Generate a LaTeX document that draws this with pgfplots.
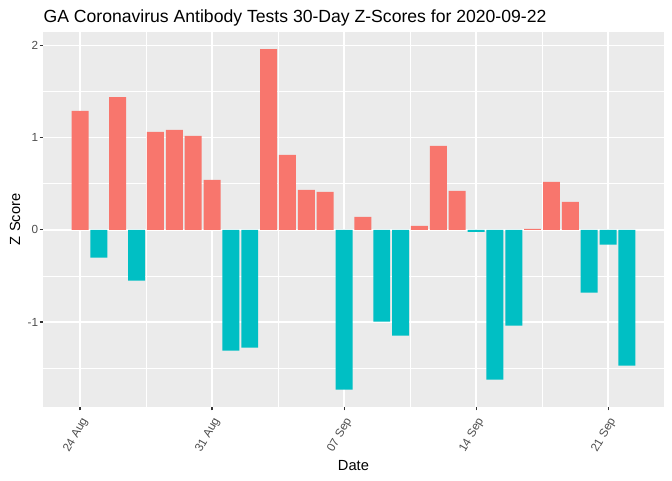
\documentclass[border=0pt]{standalone}
\usepackage{fontspec}
\setmainfont{Liberation Sans}
\usepackage{xcolor}
\usepackage{pgfplots}
\pgfplotsset{compat=1.18}

\definecolor{ggred}{HTML}{F8766D}
\definecolor{ggcyan}{HTML}{00BFC4}
\definecolor{ggpanel}{HTML}{EBEBEB}
\definecolor{gray30}{HTML}{4D4D4D}
\definecolor{gray20}{HTML}{333333}

\begin{document}
\begin{tikzpicture}
\useasboundingbox (0,0) rectangle (504pt,360pt);
\begin{axis}[
  at={(32.5pt,55pt)}, anchor=south west,
  scale only axis,
  width=465.2pt, height=281pt,
  xmin=-1.945, xmax=30.945,
  ymin=-1.918, ymax=2.145,
  axis background/.style={fill=ggpanel},
  axis line style={draw=none},
  grid=both,
  major grid style={white, line width=1.07pt},
  minor grid style={white, line width=0.53pt},
  xtick={0,7,14,21,28},
  xticklabels={24 Aug,31 Aug,07 Sep,14 Sep,21 Sep},
  minor xtick={3.5,10.5,17.5,24.5},
  ytick={-1,0,1,2},
  yticklabels={-1,0,1,2},
  minor ytick={-1.5,-0.5,0.5,1.5},
  xtick pos=left, ytick pos=left,
  tick align=outside,
  major tick length=2.75pt,
  minor tick length=0pt,
  major tick style={gray20, line width=0.8pt},
  xticklabel style={yshift=-3pt, font=\fontsize{8.8}{10}\selectfont, text=gray30, rotate=60, anchor=north east, inner sep=1pt},
  yticklabel style={font=\fontsize{8.8}{10}\selectfont, text=gray30, anchor=east, inner sep=1pt},
  every axis title shift=0pt,
  title={GA Coronavirus Antibody Tests 30-Day Z-Scores for 2020-09-22},
  title style={font=\fontsize{13.2}{15}\selectfont, at={(axis description cs:0,1.0249)}, anchor=base west, inner sep=0pt},
  xlabel={Date},
  xlabel style={font=\fontsize{11}{13}\selectfont, at={(axis description cs:0.5,-0.1708)}, anchor=base, inner sep=0pt},
  ylabel={Z Score},
  ylabel style={font=\fontsize{11}{13}\selectfont, at={(axis description cs:-0.0376,0.5)}, anchor=base, inner sep=0pt},
]
% positive z-scores
\addplot[ybar, bar width=0.9, bar shift=0pt, fill=ggred, draw=none] coordinates {
  (0,1.289) (2,1.440) (4,1.061) (5,1.083) (6,1.018) (7,0.542)
  (10,1.960) (11,0.812) (12,0.433) (13,0.412) (15,0.141)
  (18,0.043) (19,0.910) (20,0.422) (24,0.011) (25,0.520) (26,0.303)
};
% negative z-scores
\addplot[ybar, bar width=0.9, bar shift=0pt, fill=ggcyan, draw=none] coordinates {
  (1,-0.303) (3,-0.552) (8,-1.310) (9,-1.278) (14,-1.733)
  (16,-0.996) (17,-1.148) (21,-0.022) (22,-1.625) (23,-1.040)
  (27,-0.682) (28,-0.162) (29,-1.473)
};
\end{axis}
\end{tikzpicture}
\end{document}
